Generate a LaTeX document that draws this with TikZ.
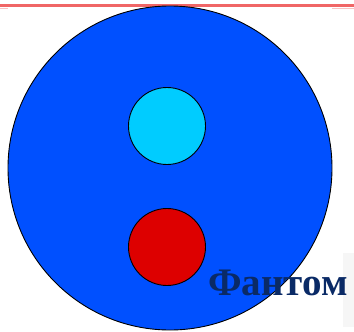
\documentclass[tikz,border=0pt]{standalone}
\usepackage{fontspec}
\setmainfont{Liberation Serif}
\usetikzlibrary{positioning}
\definecolor{disc}{HTML}{0050FF}
\definecolor{hole}{HTML}{00CCFF}
\definecolor{core}{HTML}{DD0000}
\definecolor{navy}{HTML}{0A2A66}
\definecolor{rule}{HTML}{F06666}

\begin{document}
\begin{tikzpicture}[
  x=1pt,y=-1pt,
  ball/.style={draw=black,circle,line width=0.9pt,inner sep=0pt},
  title/.style={font=\bfseries\fontsize{39}{39}\selectfont,text=navy,inner sep=0pt}
]
\useasboundingbox (0,0) rectangle (354,332);
\fill[gray!7] (343,253) rectangle (354,327);
\draw[rule,line width=2.6pt] (0,5.5) -- (354,5.5);
\draw[rule!40,line width=1pt] (0,8) -- (8,8);
\draw[rule!40,line width=1pt] (332,8) -- (354,8);
\node[ball,fill=disc,minimum size=324pt] (phantom) at (170,168) {};
\node[ball,fill=hole,minimum size=77pt] (insert) at (167,126) {};
\node[ball,fill=core,minimum size=77pt] (tumor) at (167,247) {};
\node[title,anchor=base west] (name) at (208,295) {Фантом};
\end{tikzpicture}
\end{document}
